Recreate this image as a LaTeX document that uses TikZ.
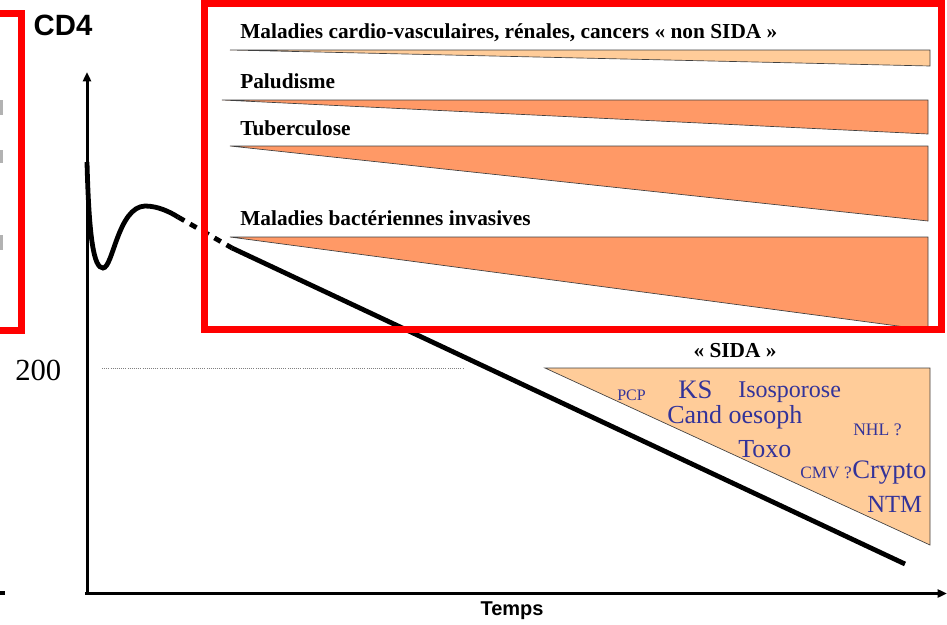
\documentclass[tikz,border=0pt]{standalone}
\usepackage{fontspec}
\setmainfont{Liberation Serif}
\setsansfont{Liberation Sans}
\usetikzlibrary{arrows.meta}
\definecolor{peach}{RGB}{255,204,153}
\definecolor{salmon}{RGB}{255,153,102}
\definecolor{lblue}{RGB}{51,51,153}
\tikzset{
  hdr/.style={font=\bfseries\fontsize{16}{18}\selectfont, anchor=base west, inner sep=0pt},
  lbl/.style={text=lblue, anchor=base west, inner sep=0pt},
  wedge/.style={draw=black!75, line width=0.5pt},
  axisline/.style={line width=2.25pt, -{Triangle[length=7pt,width=6pt]}},
  cd4curve/.style={line width=3.6pt},
  redbox/.style={draw=red, line width=5.25pt},
  fs/.style={font=\fontsize{#1}{#1}\selectfont}
}
\begin{document}
\begin{tikzpicture}[x=0.75pt,y=-0.75pt]
\useasboundingbox (0,0) rectangle (947,625);

% wedges
\draw[wedge, fill=peach] (230,50) -- (930,50) -- (930,66) -- cycle;
\draw[wedge, fill=salmon] (222,100) -- (928,100) -- (928,134) -- cycle;
\draw[wedge, fill=salmon] (230,146) -- (928,146) -- (928,221) -- cycle;
\draw[wedge, fill=salmon] (230,237) -- (928,237) -- (928,330) -- cycle;
\draw[wedge, fill=peach] (545,368) -- (930,368) -- (930,545) -- cycle;

% headers
\node[hdr] (cardio) at (240,38) {Maladies cardio-vasculaires, rénales, cancers « non SIDA »};
\node[hdr] (palu) at (240,88) {Paludisme};
\node[hdr] (tuber) at (240,135) {Tuberculose};
\node[hdr] (bact) at (240,225) {Maladies bactériennes invasives};
\node[hdr, anchor=base] (sida) at (735,357) {« SIDA »};

% blue labels
\node[lbl, fs=12] (pcp) at (617,400) {PCP};
\node[lbl, fs=20] (ks) at (678,398) {KS};
\node[lbl, fs=18] (iso) at (738,397) {Isosporose};
\node[lbl, fs=19.5] (cand) at (667,423) {Cand oesoph};
\node[lbl, fs=13.2] (nhl) at (853,435) {NHL ?};
\node[lbl, fs=19.5] (toxo) at (738,457) {Toxo};
\node[lbl, fs=13] (cmv) at (800,478) {CMV ?};
\node[lbl, fs=20] (crypto) at (852,478) {Crypto};
\node[lbl, fs=18.5] (ntm) at (867,512) {NTM};

% axes
\coordinate (origin) at (87,593.5);
\coordinate (ytop) at (87,72);
\coordinate (xend) at (947,593.5);
\draw[axisline] (origin) -- (ytop);
\draw[axisline] ([xshift=-1.5]origin) -- (xend);
\node[font=\sffamily\bfseries\fontsize{22}{24}\selectfont, inner sep=0pt] (cd4) at (63,25) {CD4};
\node[font=\sffamily\bfseries\fontsize{15}{17}\selectfont, inner sep=0pt] (temps) at (512,611) {Temps};
\node[font=\fontsize{23}{25}\selectfont, anchor=base west, inner sep=0pt] (v200) at (15,380) {200};

% threshold
\coordinate (th1) at (102,368);
\coordinate (th2) at (463,368);
\draw[gray, line width=0.6pt, densely dotted] (th1) -- (th2);

% CD4 curve
\coordinate (c0) at (87,162);
\coordinate (c1) at (178,217);
\coordinate (c2) at (232,248);
\coordinate (c3) at (905,564);
\draw[cd4curve, line cap=butt] (c0) .. controls (89,240) and (94,268) .. (103,268)
  .. controls (113,268) and (118,207) .. (145,206)
  .. controls (158,206) and (170,212) .. (c1);
\draw[cd4curve, dash pattern=on 5.5pt off 5pt] (c1) -- (c2);
\draw[cd4curve] (c2) -- (c3);

% cropped fragments at left edge
\fill[gray!60] (0,100) rectangle (2.5,115);
\fill[gray!60] (0,150) rectangle (2.5,163);
\fill[gray!60] (0,235) rectangle (2.5,250);
\draw[line width=3pt] (0,593) -- (5,593);

% red boxes
\draw[redbox] (-20,13.5) rectangle (21,330);
\draw[redbox] (204,3) rectangle (941,329);
\end{tikzpicture}
\end{document}
